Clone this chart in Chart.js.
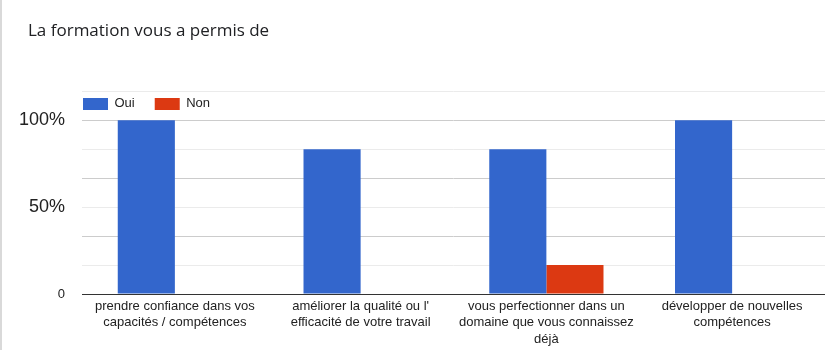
<!DOCTYPE html>
<html>
<head>
<meta charset="utf-8">
<script src="https://cdn.jsdelivr.net/npm/chart.js@4"></script>
<style>
  html, body { margin: 0; padding: 0; background: #fff; }
  #wrap { position: relative; width: 825px; height: 350px; }
  #edge { position: absolute; left: 0; top: 0; width: 2px; height: 350px; background: #d9d9d9; }
</style>
</head>
<body>
<div id="wrap">
  <canvas id="c" width="825" height="350"></canvas>
  <div id="edge"></div>
</div>
<script>
const titleText = 'La formation vous a permis de';
const categories = [
  ['prendre confiance dans vos', 'capacités / compétences'],
  ["améliorer la qualité ou l'", 'efficacité de votre travail'],
  ['vous perfectionner dans un', 'domaine que vous connaissez', 'déjà'],
  ['développer de nouvelles', 'compétences']
];
const seriesNames = ['Oui', 'Non'];
const ouiValues = [100, 83.33, 83.33, 100];
const nonValues = [0, 0, 16.67, 0];
const yTickValues = [0, 16.67, 33.33, 50, 66.67, 83.33, 100, 116.67];
const yTickLabels = ['0', '', '', '50%', '', '', '100%', ''];

const boxShift = {
  id: 'boxShift',
  afterLayout(chart) {
    const lg = chart.legend;
    if (lg) {
      const pad = lg.options.labels.padding;
      const h = lg.height;
      lg.left = chart.chartArea.left + 1 - pad;
      lg.top = chart.chartArea.top + 6 - pad;
      lg.bottom = lg.top + h;
    }
    const tb = chart.titleBlock;
    if (tb) {
      const w = tb.width;
      tb.left = 28;
      tb.right = tb.left + w;
    }
  }
};

new Chart(document.getElementById('c'), {
  type: 'bar',
  data: {
    labels: categories,
    datasets: [
      { label: seriesNames[0], data: ouiValues, backgroundColor: '#3366cc', borderWidth: 0,
        barPercentage: 1, categoryPercentage: 0.615 },
      { label: seriesNames[1], data: nonValues, backgroundColor: '#dc3912', borderWidth: 0,
        barPercentage: 1, categoryPercentage: 0.615 }
    ]
  },
  options: {
    responsive: false,
    animation: false,
    layout: { padding: { left: 4, right: 0, top: 0, bottom: 0 } },
    plugins: {
      title: {
        display: true,
        text: titleText,
        align: 'start',
        color: '#202124',
        font: { family: "'Open Sans', sans-serif", size: 17, weight: 'normal', lineHeight: 1.2 },
        padding: { top: 21, bottom: 7 }
      },
      legend: {
        display: true,
        position: 'top',
        align: 'start',
        labels: {
          boxWidth: 25,
          boxHeight: 12,
          padding: 20,
          color: '#222222',
          font: { family: "'Liberation Sans', Arial, sans-serif", size: 13 }
        }
      },
      tooltip: { enabled: false }
    },
    scales: {
      x: {
        grid: { display: false, drawTicks: false },
        border: { display: true, color: '#333333', width: 1 },
        ticks: {
          color: '#222222',
          padding: 4,
          maxRotation: 0,
          autoSkip: false,
          font: { family: "'Liberation Sans', Arial, sans-serif", size: 13, lineHeight: 1.27 }
        },
        afterFit(scale) { scale.height = 56; }
      },
      y: {
        min: 0,
        max: yTickValues[yTickValues.length - 1],
        afterBuildTicks(scale) { scale.ticks = yTickValues.map(v => ({ value: v })); },
        afterFit(scale) { scale.width = 78; },
        border: { display: false },
        grid: {
          drawTicks: false,
          tickLength: 0,
          color: (ctx) => ctx.index === 0 ? '#333333' : (ctx.index % 2 === 0 ? '#cccccc' : '#ebebeb'),
          lineWidth: 1
        },
        ticks: {
          padding: 17,
          color: '#222222',
          autoSkip: false,
          font: (ctx) => ({ family: "'Liberation Sans', Arial, sans-serif", size: ctx.index === 0 ? 13 : 18 }),
          callback: (value, index) => yTickLabels[index]
        }
      }
    }
  },
  plugins: [boxShift]
});
</script>
</body>
</html>
